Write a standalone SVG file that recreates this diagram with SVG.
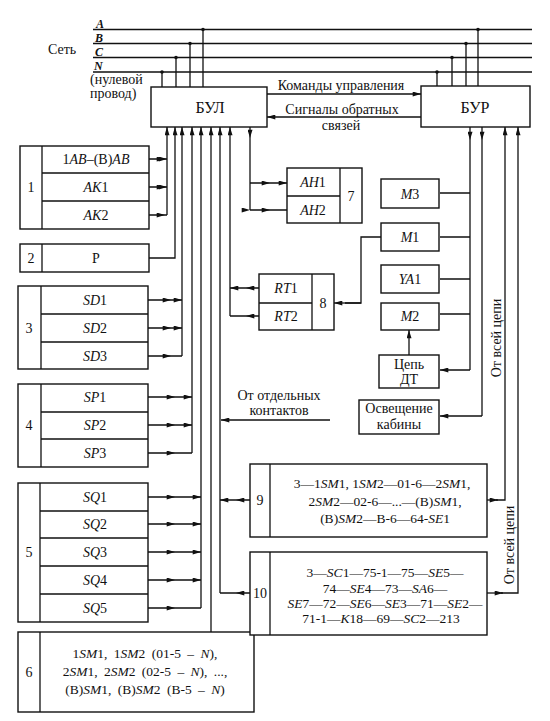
<svg xmlns="http://www.w3.org/2000/svg" width="550" height="721" viewBox="0 0 550 721">
<style>
text{font-family:"Liberation Serif","Times New Roman",serif;font-size:14px;fill:#111}
.c{text-anchor:middle}
.i{font-style:italic}
.bi{font-style:italic;font-weight:bold;font-size:12px}
.big{font-size:16px}
.sm{font-size:13.5px}
.box{fill:#fff;stroke:#111;stroke-width:1.4}
.ln{fill:none;stroke:#111;stroke-width:1.3}
.w{fill:none;stroke:#111;stroke-width:1.3}
.a{marker-end:url(#ah)}
.m{marker-mid:url(#ah)}
</style>
<defs>
<marker id="ah" viewBox="0 0 10 6" refX="10" refY="3" markerWidth="9" markerHeight="5" markerUnits="userSpaceOnUse" orient="auto">
<path d="M0,0 L10,3 L0,6 z" fill="#111"/>
</marker>
</defs>
<rect width="550" height="721" fill="#fff"/>

<g id="network">
<text x="96" y="27.5" class="bi">A</text>
<text x="95" y="41.5" class="bi">B</text>
<text x="95" y="55.5" class="bi">C</text>
<text x="94" y="70" class="bi">N</text>
<text x="48" y="54">Сеть</text>
<text x="90" y="84">(нулевой</text>
<text x="90" y="98">провод)</text>
</g>

<g id="connectors">
<path class="w" d="M93 29.5H532M93 43.5H532M93 57.5H532M93 72H532"/>
<path class="w" d="M162 72V87M176 57.5V87M190 43.5V87M203 29.5V87M437 72V86M452 57.5V86M466 43.5V86M478 29.5V86"/>
<g fill="#111">
<circle cx="162" cy="72" r="1.8"/><circle cx="176" cy="57.5" r="1.8"/><circle cx="190" cy="43.5" r="1.8"/><circle cx="203" cy="29.5" r="1.8"/>
<circle cx="437" cy="72" r="1.8"/><circle cx="452" cy="57.5" r="1.8"/><circle cx="466" cy="43.5" r="1.8"/><circle cx="478" cy="29.5" r="1.8"/>
</g>
<path class="ln a" d="M267 94H421"/>
<path class="ln a" d="M421 117H267"/>
<path class="ln m" d="M149 159H165H167M149 187H165H167M149 215H165H167"/>
<path class="ln a" d="M167 215V127"/>
<path class="ln a" d="M149 258H175V127"/>
<path class="ln m" d="M148 300H171H182M148 328H171H182M148 356H171H182"/>
<path class="ln a" d="M182 356V127"/>
<path class="ln m" d="M148 397H175H192M148 425H175H192M148 453H175H192"/>
<path class="ln a" d="M192 453V127"/>
<path class="ln m" d="M148 497H175H201M148 524H175H201M148 552H175H201M148 580H175H201M148 608H175H201"/>
<path class="ln a" d="M201 608V127"/>
<path class="ln a" d="M211 632V127"/>
<path class="ln a" d="M220 593V127"/>
<path class="ln m" d="M250 500H236H220M250 593H236H220"/>
<path class="ln a" d="M330 420H221"/>
<path class="ln a" d="M230 316V127"/>
<path class="ln m" d="M259 288H246H230M259 316H246H230"/>
<path class="ln m" d="M250 127V138V210"/>
<path class="ln m" d="M250 183H270H287M250 210H270H287"/>
<path class="ln m" d="M470 127V140V370"/>
<path class="ln a" d="M470 193H440M470 237H440M470 279H440M470 314H440M470 370H440"/>
<path class="ln m" d="M482 127V140V416"/>
<path class="ln a" d="M482 416H440"/>
<path class="ln" d="M381 237H361V303H345"/>
<path class="ln a" d="M361 303H334"/>
<path class="ln a" d="M409 355V330"/>
<path class="ln a" d="M487 500H498"/>
<path class="ln a" d="M496 500H505V127"/>
<path class="ln a" d="M487 593H503"/>
<path class="ln a" d="M501 593H518V127"/>
</g>

<g id="labels">
<text x="341" y="90" class="c">Команды управления</text>
<text x="342" y="114" class="c">Сигналы обратных</text>
<text x="341" y="130" class="c">связей</text>
<text x="279" y="400" class="c">От отдельных</text>
<text x="279" y="415" class="c">контактов</text>
<text transform="translate(501 338) rotate(-90)" class="c">От всей цепи</text>
<text transform="translate(514 545) rotate(-90)" class="c">От всей цепи</text>
</g>

<g id="BUL">
<rect class="box" x="151" y="87" width="116" height="40"/>
<text x="210" y="113" class="c big">БУЛ</text>
</g>
<g id="BUR">
<rect class="box" x="421" y="86" width="109" height="41"/>
<text x="475" y="113" class="c big">БУР</text>
</g>

<g id="group1">
<rect class="box" x="20" y="146" width="129" height="83"/>
<path class="w" d="M42 146V229M42 173H149M42 201H149"/>
<text x="31" y="192" class="c">1</text>
<text x="96" y="164" class="c">1<tspan class="i">AB</tspan>–(В)<tspan class="i">AB</tspan></text>
<text x="96" y="192" class="c"><tspan class="i">AK</tspan>1</text>
<text x="96" y="220" class="c"><tspan class="i">AK</tspan>2</text>
</g>

<g id="group2">
<rect class="box" x="20" y="244" width="129" height="28"/>
<path class="w" d="M42 244V272"/>
<text x="31" y="263" class="c">2</text>
<text x="96" y="263" class="c">Р</text>
</g>

<g id="group3">
<rect class="box" x="18" y="286" width="130" height="83"/>
<path class="w" d="M41 286V369M41 314H148M41 342H148"/>
<text x="29" y="333" class="c">3</text>
<text x="95" y="305" class="c"><tspan class="i">SD</tspan>1</text>
<text x="95" y="333" class="c"><tspan class="i">SD</tspan>2</text>
<text x="95" y="361" class="c"><tspan class="i">SD</tspan>3</text>
</g>

<g id="group4">
<rect class="box" x="18" y="384" width="130" height="83"/>
<path class="w" d="M41 384V467M41 412H148M41 439H148"/>
<text x="29" y="430" class="c">4</text>
<text x="95" y="402" class="c"><tspan class="i">SP</tspan>1</text>
<text x="95" y="430" class="c"><tspan class="i">SP</tspan>2</text>
<text x="95" y="458" class="c"><tspan class="i">SP</tspan>3</text>
</g>

<g id="group5">
<rect class="box" x="18" y="483" width="130" height="139"/>
<path class="w" d="M40 483V622M40 511H148M40 538H148M40 566H148M40 594H148"/>
<text x="29" y="557" class="c">5</text>
<text x="95" y="502" class="c"><tspan class="i">SQ</tspan>1</text>
<text x="95" y="529" class="c"><tspan class="i">SQ</tspan>2</text>
<text x="95" y="557" class="c"><tspan class="i">SQ</tspan>3</text>
<text x="95" y="585" class="c"><tspan class="i">SQ</tspan>4</text>
<text x="95" y="613" class="c"><tspan class="i">SQ</tspan>5</text>
</g>

<g id="group6">
<rect class="box" x="18" y="632" width="236" height="80"/>
<path class="w" d="M40 632V712"/>
<text x="29" y="677" class="c">6</text>
<text x="145" y="658" class="c sm" style="word-spacing:3px">1<tspan class="i">SM</tspan>1, 1<tspan class="i">SM</tspan>2 (01-5 – <tspan class="i">N</tspan>),</text>
<text x="145" y="676" class="c sm" style="word-spacing:3px">2<tspan class="i">SM</tspan>1, 2<tspan class="i">SM</tspan>2 (02-5 – <tspan class="i">N</tspan>), ...,</text>
<text x="145" y="694" class="c sm" style="word-spacing:3px">(В)<tspan class="i">SM</tspan>1, (В)<tspan class="i">SM</tspan>2 (В-5 – <tspan class="i">N</tspan>)</text>
</g>

<g id="group7">
<rect class="box" x="287" y="168" width="75" height="55"/>
<path class="w" d="M340 168V223M287 196H340"/>
<text x="313" y="187" class="c"><tspan class="i">AH</tspan>1</text>
<text x="313" y="215" class="c"><tspan class="i">AH</tspan>2</text>
<text x="351" y="201" class="c">7</text>
</g>

<g id="group8">
<rect class="box" x="259" y="274" width="75" height="56"/>
<path class="w" d="M312 274V330M259 303H312"/>
<text x="286" y="293" class="c"><tspan class="i">RT</tspan>1</text>
<text x="286" y="321" class="c"><tspan class="i">RT</tspan>2</text>
<text x="323" y="308" class="c">8</text>
</g>

<g id="M3">
<rect class="box" x="381" y="179" width="58" height="29"/>
<text x="410" y="199" class="c"><tspan class="i">M</tspan>3</text>
</g>
<g id="M1">
<rect class="box" x="381" y="223" width="58" height="28"/>
<text x="410" y="242" class="c"><tspan class="i">M</tspan>1</text>
</g>
<g id="YA1">
<rect class="box" x="381" y="265" width="58" height="28"/>
<text x="410" y="284" class="c"><tspan class="i">YA</tspan>1</text>
</g>
<g id="M2">
<rect class="box" x="381" y="303" width="58" height="27"/>
<text x="410" y="321" class="c"><tspan class="i">M</tspan>2</text>
</g>
<g id="DT">
<rect class="box" x="379" y="355" width="60" height="33"/>
<text x="409" y="369" class="c">Цепь</text>
<text x="409" y="384" class="c">ДТ</text>
</g>
<g id="light">
<rect class="box" x="359" y="400" width="80" height="34"/>
<text x="399" y="413" class="c">Освещение</text>
<text x="399" y="429" class="c">кабины</text>
</g>

<g id="group9">
<rect class="box" x="250" y="464" width="237" height="73"/>
<path class="w" d="M270 464V537"/>
<text x="260" y="505" class="c">9</text>
<text x="382" y="488" class="c sm">3—1<tspan class="i">SM</tspan>1, 1<tspan class="i">SM</tspan>2—01-6—2<tspan class="i">SM</tspan>1,</text>
<text x="385" y="506" class="c sm">2<tspan class="i">SM</tspan>2—02-6—...—(В)<tspan class="i">SM</tspan>1,</text>
<text x="385" y="523" class="c sm">(В)<tspan class="i">SM</tspan>2—В-6—64-<tspan class="i">SE</tspan>1</text>
</g>

<g id="group10">
<rect class="box" x="250" y="552" width="237" height="83"/>
<path class="w" d="M270 552V635"/>
<text x="260" y="598" class="c">10</text>
<text x="385" y="577" class="c sm">3—<tspan class="i">SC</tspan>1—75-1—75—<tspan class="i">SE</tspan>5—</text>
<text x="385" y="593" class="c sm">74—<tspan class="i">SE</tspan>4—73—<tspan class="i">SA</tspan>6—</text>
<text x="385" y="608" class="c sm"><tspan class="i">SE</tspan>7—72—<tspan class="i">SE</tspan>6—<tspan class="i">SE</tspan>3—71—<tspan class="i">SE</tspan>2—</text>
<text x="381" y="623" class="c sm">71-1—<tspan class="i">K</tspan>18—69—<tspan class="i">SC</tspan>2—213</text>
</g>
</svg>
